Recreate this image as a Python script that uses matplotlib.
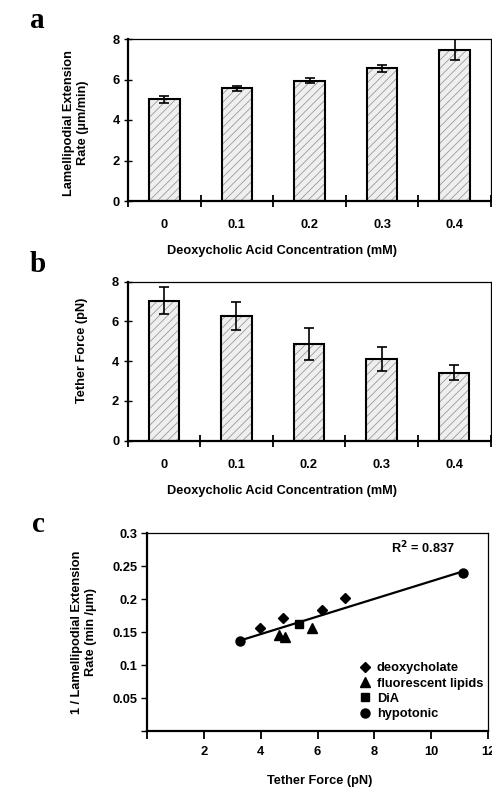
import numpy as np
import matplotlib
matplotlib.use("Agg")
import matplotlib.pyplot as plt
from matplotlib.lines import Line2D

plt.rcParams['font.family'] = ['Liberation Sans', 'DejaVu Sans']
plt.rcParams['font.weight'] = 'bold'
plt.rcParams['hatch.linewidth'] = 0.6

# ---------------- data ----------------
conc_labels = ["0", "0.1", "0.2", "0.3", "0.4"]
rate_vals = [5.03, 5.57, 5.94, 6.55, 7.48]
rate_err = [0.17, 0.12, 0.12, 0.17, 0.50]
force_vals = [7.04, 6.25, 4.86, 4.10, 3.42]
force_err = [0.67, 0.70, 0.80, 0.58, 0.37]

deoxy_x = [3.96, 4.77, 6.15, 6.96]
deoxy_y = [0.156, 0.171, 0.184, 0.202]
fluor_x = [4.65, 4.85, 5.81]
fluor_y = [0.146, 0.143, 0.156]
dia_x = [5.35]
dia_y = [0.162]
hypo_x = [3.29, 11.12]
hypo_y = [0.137, 0.239]
r2_text = "R$^{\\mathbf{2}}$ = 0.837"

W, H = 492, 788
fig = plt.figure(figsize=(W / 100, H / 100), dpi=100)

def fx(px):
    return px / W

def fy(py):
    return 1 - py / H

TICKFS = 9.3
LABFS = 9.2

def bar_panel(rect, vals, errs):
    ax = fig.add_axes(rect)
    x = np.arange(len(vals))
    ax.bar(x, vals, width=0.42, color='#efefef', edgecolor='#9a9a9a',
           hatch='////', linewidth=0, zorder=2)
    ax.bar(x, vals, width=0.42, fill=False, edgecolor='black',
           linewidth=1.5, zorder=3)
    ax.errorbar(x, vals, yerr=errs, fmt='none', ecolor='black',
                elinewidth=1.2, capsize=3.5, capthick=1.2, zorder=4)
    ax.set_xlim(-0.5, len(vals) - 0.5)
    ax.set_ylim(0, 8)
    ax.set_yticks([0, 2, 4, 6, 8])
    ax.set_xticks(x)
    ax.set_xticklabels(conc_labels)
    ax.set_xticks(np.arange(len(vals) + 1) - 0.5, minor=True)
    ax.tick_params(axis='x', which='major', length=0, pad=13,
                   labelsize=TICKFS)
    ax.tick_params(axis='x', which='minor', direction='inout', length=9,
                   width=1.3)
    ax.tick_params(axis='y', direction='inout', length=6, width=1.0,
                   labelsize=TICKFS, pad=3)
    ax.spines['left'].set_linewidth(1.6)
    ax.spines['bottom'].set_linewidth(1.6)
    ax.spines['top'].set_linewidth(0.9)
    ax.spines['right'].set_linewidth(0.9)
    for lab in ax.get_xticklabels() + ax.get_yticklabels():
        lab.set_fontweight('bold')
    return ax

LETTER_X = 30

# panel a
axa = bar_panel([fx(128), fy(201), fx(363), 162 / H], rate_vals, rate_err)
fig.text(fx(76), fy(123), "Lamellipodial Extension\nRate (\u00b5m/min)",
         rotation=90, ha='center', va='center', fontsize=LABFS,
         fontweight='bold', multialignment='center', linespacing=1.15)
fig.text(fx(282), fy(251), "Deoxycholic Acid Concentration (mM)",
         ha='center', va='center', fontsize=LABFS, fontweight='bold')
fig.text(fx(LETTER_X), fy(20), "a", family='Liberation Serif', fontweight='bold',
         fontsize=21, ha='left', va='center')

# panel b
axb = bar_panel([fx(127.5), fy(440.5), fx(363), 159 / H], force_vals, force_err)
fig.text(fx(82), fy(350), "Tether Force (pN)", rotation=90, ha='center',
         va='center', fontsize=LABFS, fontweight='bold')
fig.text(fx(282), fy(491), "Deoxycholic Acid Concentration (mM)",
         ha='center', va='center', fontsize=LABFS, fontweight='bold')
fig.text(fx(LETTER_X), fy(264), "b", family='Liberation Serif', fontweight='bold',
         fontsize=21, ha='left', va='center')

# panel c
axc = fig.add_axes([fx(147), fy(731), fx(341), 197.7 / H])
ms = 6
axc.plot(deoxy_x, deoxy_y, 'D', color='black', markersize=ms - 0.5, zorder=4)
axc.plot(fluor_x, fluor_y, '^', color='black', markersize=ms + 0.5, zorder=4)
axc.plot(dia_x, dia_y, 's', color='black', markersize=ms, zorder=4)
axc.plot(hypo_x, hypo_y, 'o', color='black', markersize=ms + 0.5, zorder=4)

all_x = np.array(deoxy_x + fluor_x + dia_x + hypo_x)
all_y = np.array(deoxy_y + fluor_y + dia_y + hypo_y)
k, b0 = np.polyfit(all_x, all_y, 1)
xl = np.array([all_x.min(), all_x.max()])
axc.plot(xl, k * xl + b0, color='black', linewidth=1.6, zorder=3)

axc.set_xlim(0, 12)
axc.set_ylim(0, 0.3)
axc.set_xticks([0, 2, 4, 6, 8, 10, 12])
axc.set_xticklabels(["", "2", "4", "6", "8", "10", "12"])
axc.set_yticks([0, 0.05, 0.1, 0.15, 0.2, 0.25, 0.3])
axc.set_yticklabels(["", "0.05", "0.1", "0.15", "0.2", "0.25", "0.3"])
axc.tick_params(axis='x', direction='out', length=6, width=1.3,
                labelsize=TICKFS, pad=5)
axc.tick_params(axis='y', direction='out', length=4, width=1.0,
                labelsize=TICKFS, pad=3)
axc.spines['left'].set_linewidth(1.6)
axc.spines['bottom'].set_linewidth(1.6)
axc.spines['top'].set_linewidth(0.9)
axc.spines['right'].set_linewidth(0.9)
for lab in axc.get_xticklabels() + axc.get_yticklabels():
    lab.set_fontweight('bold')

axc.text(8.6, 0.278, r2_text, fontsize=9.2, fontweight='bold',
         ha='left', va='center')

handles = [
    Line2D([], [], marker='D', color='black', linestyle='none', markersize=ms - 0.5),
    Line2D([], [], marker='^', color='black', linestyle='none', markersize=ms + 0.5),
    Line2D([], [], marker='s', color='black', linestyle='none', markersize=ms),
    Line2D([], [], marker='o', color='black', linestyle='none', markersize=ms + 0.5),
]
leg = axc.legend(handles, ["deoxycholate", "fluorescent lipids", "DiA", "hypotonic"],
                 loc='upper left', bbox_to_anchor=(0.6, 0.38), frameon=False,
                 borderpad=0, handlelength=1.0, handletextpad=0.45,
                 labelspacing=0.25, prop={'size': 9.3, 'weight': 'bold'})

fig.text(fx(84), fy(632), "1 / Lamellipodial Extension\nRate (min /\u00b5m)",
         rotation=90, ha='center', va='center', fontsize=LABFS,
         fontweight='bold', multialignment='center', linespacing=1.15)
fig.text(fx(320), fy(781), "Tether Force (pN)", ha='center', va='center',
         fontsize=LABFS, fontweight='bold')
fig.text(fx(LETTER_X + 2), fy(525), "c", family='Liberation Serif', fontweight='bold',
         fontsize=21, ha='left', va='center')

fig.savefig("out.png", dpi=100)
